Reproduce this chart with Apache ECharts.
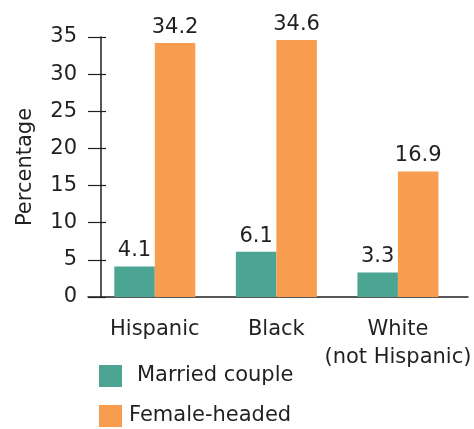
<!DOCTYPE html>
<html>
<head>
<meta charset="utf-8">
<script src="https://cdn.jsdelivr.net/npm/echarts@6/dist/echarts.min.js"></script>
<style>
  html, body { margin: 0; padding: 0; background: #fff; }
  #chart { width: 474px; height: 429px; }
</style>
</head>
<body>
<div id="chart"></div>
<script>
const categories = ['Hispanic', 'Black', 'White\n(not Hispanic)'];
const marriedCouple = [4.1, 6.1, 3.3];
const femaleHeaded = [34.2, 34.6, 16.9];
const yTicks = [0, 5, 10, 15, 20, 25, 30, 35];

const txt = '#231f20';
const font = 'DejaVu Sans, sans-serif';
const fs = 21;

const chart = echarts.init(document.getElementById('chart'));

const barLabel = {
    show: true,
    position: 'top',
    distance: 5,
    color: txt,
    fontSize: fs,
    fontFamily: font
};

const legendBox = (name, top, gap) => ({
    orient: 'vertical',
    left: 99,
    top: top,
    padding: 0,
    icon: 'rect',
    itemWidth: 23,
    itemHeight: 22,
    textStyle: {color: txt, fontSize: fs, fontFamily: font, padding: [0, 0, 0, gap]},
    data: [name]
});

chart.setOption({
    animation: false,
    grid: [
        {left: 94, right: 13, top: 37, bottom: 132},
        // only used for the longer baseline
        {left: 88, right: 6, top: 37, bottom: 132}
    ],
    legend: [
        legendBox('Married couple', 365, 10),
        legendBox('Female-headed', 405, 2)
    ],
    xAxis: [
        {
            type: 'category',
            gridIndex: 0,
            data: categories,
            axisLine: {show: false},
            axisTick: {show: false},
            axisLabel: {
                color: txt,
                fontSize: fs,
                fontFamily: font,
                margin: 19,
                lineHeight: 28,
                interval: 0
            }
        },
        {
            type: 'value',
            gridIndex: 1,
            axisLine: {show: true, lineStyle: {color: txt, width: 1.5}},
            axisTick: {show: false},
            axisLabel: {show: false},
            splitLine: {show: false}
        }
    ],
    yAxis: [
        {
            type: 'value',
            gridIndex: 0,
            position: 'left',
            min: yTicks[0],
            max: yTicks[yTicks.length - 1],
            interval: 5,
            offset: -7,
            name: 'Percentage',
            nameLocation: 'middle',
            nameGap: 65,
            nameTextStyle: {color: txt, fontSize: fs, fontFamily: font},
            axisLine: {show: true, lineStyle: {color: txt, width: 1.5}},
            axisTick: {show: true, length: 13, lineStyle: {color: txt, width: 1.2}},
            axisLabel: {color: txt, fontSize: fs, fontFamily: font, margin: 24},
            splitLine: {show: false}
        },
        {
            type: 'value',
            gridIndex: 0,
            position: 'left',
            min: yTicks[0],
            max: yTicks[yTicks.length - 1],
            interval: 5,
            offset: -7,
            axisLine: {show: false},
            axisTick: {show: true, inside: true, length: 5, lineStyle: {color: txt, width: 1.2}},
            axisLabel: {show: false},
            splitLine: {show: false}
        },
        {
            type: 'value',
            gridIndex: 1,
            show: false
        }
    ],
    series: [
        {
            name: 'Married couple',
            type: 'bar',
            xAxisIndex: 0,
            yAxisIndex: 0,
            data: marriedCouple,
            barWidth: 40.5,
            barGap: '0%',
            itemStyle: {color: '#4ca493'},
            label: barLabel
        },
        {
            name: 'Female-headed',
            type: 'bar',
            xAxisIndex: 0,
            yAxisIndex: 0,
            data: femaleHeaded,
            barWidth: 40.5,
            barGap: '0%',
            itemStyle: {color: '#f89d50'},
            label: barLabel
        }
    ]
});
</script>
</body>
</html>
